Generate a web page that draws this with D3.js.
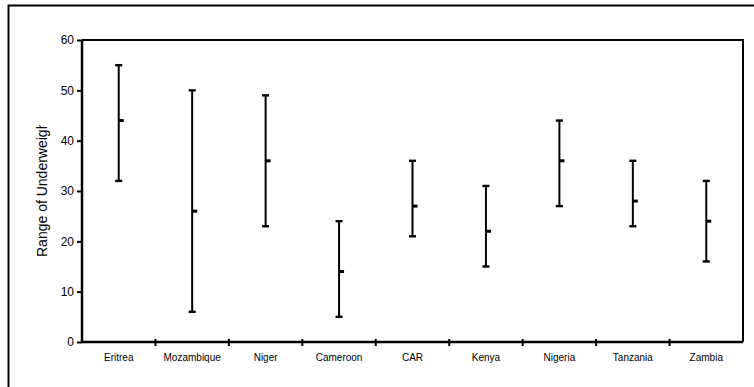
<!DOCTYPE html>
<html>
<head>
<meta charset="utf-8">
<script src="https://cdn.jsdelivr.net/npm/d3@7"></script>
<style>
  body { margin: 0; background: #fff; }
  svg { display: block; font-family: "Liberation Sans", Arial, sans-serif; }
</style>
</head>
<body>
<div id="vis"></div>
<script>

var countries = ["Eritrea", "Mozambique", "Niger", "Cameroon", "CAR", "Kenya", "Nigeria", "Tanzania", "Zambia"];
var highValues = [55, 50, 49, 24, 36, 31, 44, 36, 32];
var meanValues = [44, 26, 36, 14, 27, 22, 36, 28, 24];
var lowValues  = [32, 6, 23, 5, 21, 15, 27, 23, 16];
var yTicks = [0, 10, 20, 30, 40, 50, 60];
var yTitle = "Range of Underweight";

var width = 754, height = 387;
var margin = {left: 82, top: 40, right: 11, bottom: 45};

var svg = d3.select("#vis").append("svg")
	.attr("width", width)
	.attr("height", height);

// outer chart frame
svg.append("rect")
	.attr("x", 8.5)
	.attr("y", 5.5)
	.attr("width", 760)
	.attr("height", 400)
	.attr("fill", "none")
	.attr("stroke", "#000")
	.attr("stroke-width", 2);

var x = d3.scaleBand()
	.domain(countries)
	.range([margin.left, width - margin.right])
	.padding(0);

var y = d3.scaleLinear()
	.domain([0, 60])
	.range([height - margin.bottom, margin.top]);

// plot area frame (top and right)
svg.append("path")
	.attr("d", "M" + margin.left + "," + y(60) + "H" + (width - margin.right) + "V" + y(0))
	.attr("fill", "none")
	.attr("stroke", "#000")
	.attr("stroke-width", 2);

var yAxis = svg.append("g")
	.attr("transform", "translate(" + margin.left + ",0)")
	.call(d3.axisLeft(y).tickValues(yTicks).tickSize(5).tickPadding(3));

yAxis.select(".domain").attr("stroke-width", 2.5).attr("d", "M0," + y(60) + "V" + y(0));
yAxis.selectAll(".tick line").attr("stroke-width", 2);
yAxis.selectAll(".tick text").attr("font-size", 12).attr("fill", "#000");

var xAxis = svg.append("g")
	.attr("transform", "translate(0," + y(0) + ")")
	.call(d3.axisBottom(x).tickSize(0).tickPadding(12));

xAxis.select(".domain").attr("stroke-width", 2.5).attr("d", "M" + margin.left + ",0H" + (width - margin.right));
xAxis.selectAll(".tick text").attr("font-size", 10).attr("fill", "#000");

// category dividers crossing the x axis
svg.append("g").selectAll("line")
	.data(countries.slice(1))
	.enter().append("line")
	.attr("x1", function(d) { return x(d); })
	.attr("x2", function(d) { return x(d); })
	.attr("y1", y(0) - 3)
	.attr("y2", y(0) + 4)
	.attr("stroke", "#000")
	.attr("stroke-width", 2);

// y axis title, clipped as in the original
svg.append("clipPath").attr("id", "titleClip")
	.append("rect")
	.attr("x", 20).attr("y", 125).attr("width", 40).attr("height", 200);

svg.append("g")
	.attr("clip-path", "url(#titleClip)")
	.append("text")
	.attr("transform", "translate(47,257) rotate(-90)")
	.attr("font-size", 14)
	.text(yTitle);

// range bars
var bars = svg.append("g").selectAll("g")
	.data(countries)
	.enter().append("g")
	.attr("transform", function(d) { return "translate(" + (x(d) + x.bandwidth() / 2) + ",0)"; });

bars.append("line")
	.attr("y1", function(d, i) { return y(highValues[i]); })
	.attr("y2", function(d, i) { return y(lowValues[i]); })
	.attr("stroke", "#000")
	.attr("stroke-width", 2);

bars.append("rect")
	.attr("x", -3.5)
	.attr("y", function(d, i) { return y(highValues[i]) - 1.2; })
	.attr("width", 7)
	.attr("height", 2.4);

bars.append("rect")
	.attr("x", -3.5)
	.attr("y", function(d, i) { return y(lowValues[i]) - 1.2; })
	.attr("width", 7)
	.attr("height", 2.4);

bars.append("rect")
	.attr("x", 0)
	.attr("y", function(d, i) { return y(meanValues[i]) - 1.5; })
	.attr("width", 5)
	.attr("height", 3);

</script>
</body>
</html>
